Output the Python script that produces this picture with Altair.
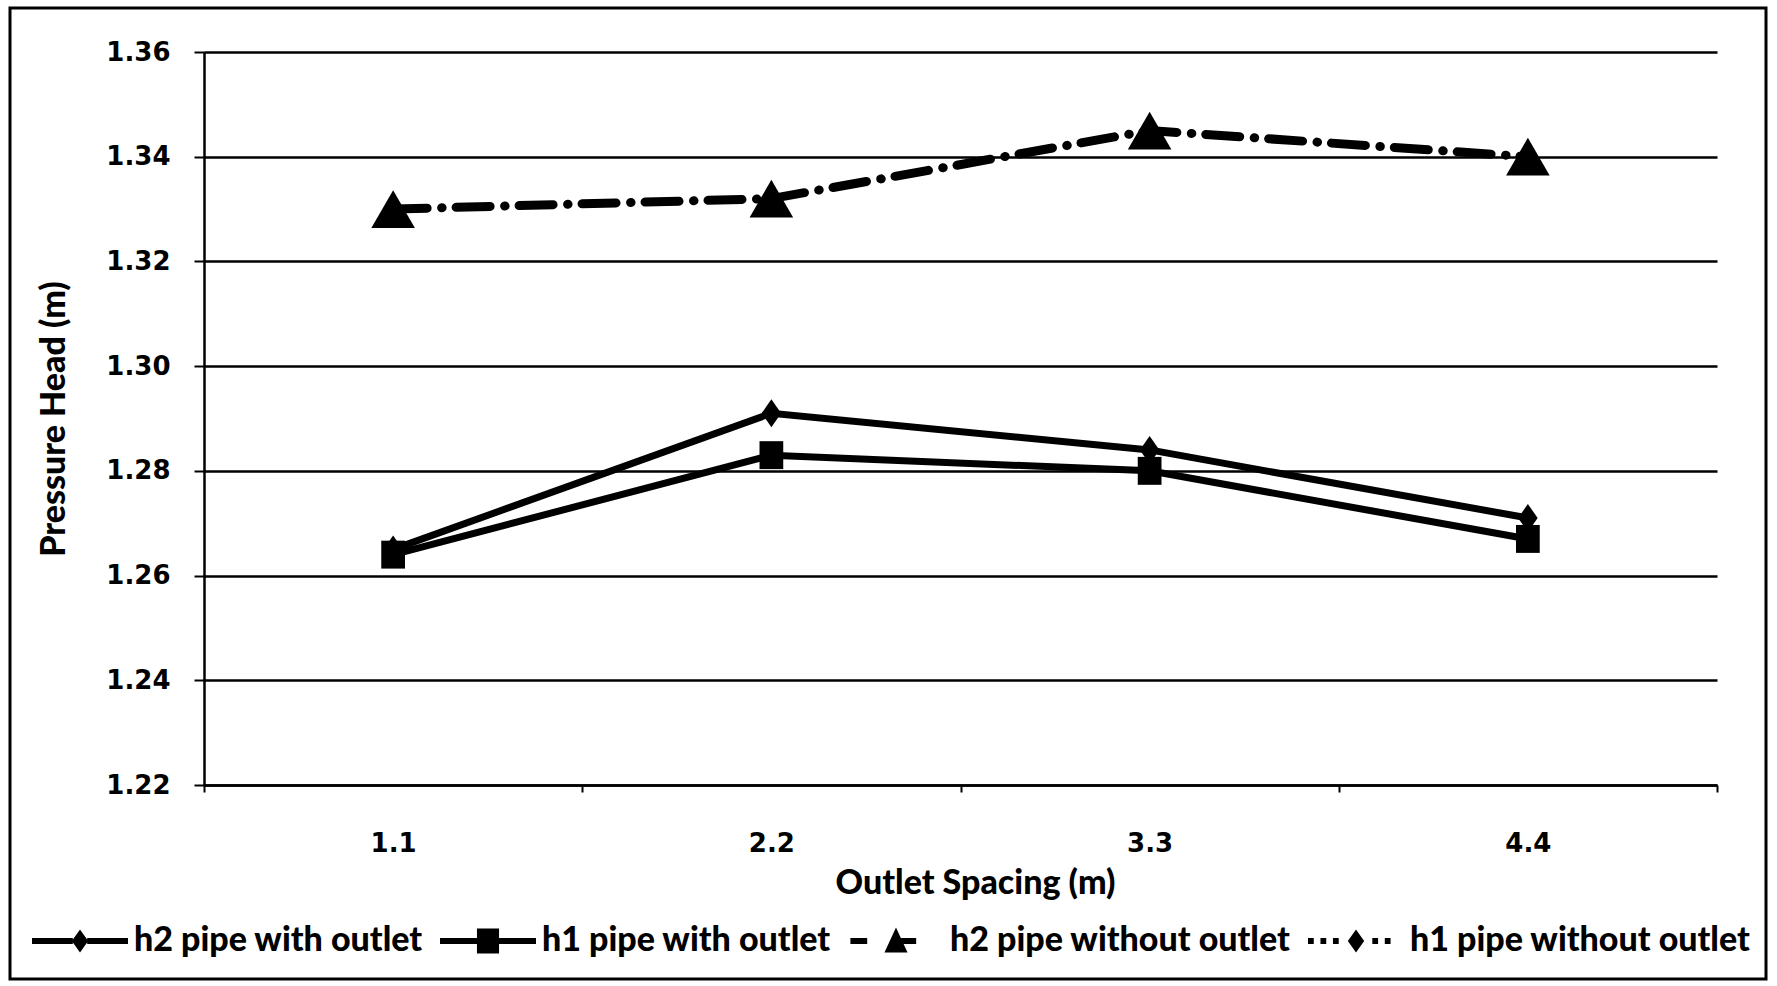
import altair as alt
import pandas as pd

# ---- data ----
spacing = [1.1, 2.2, 3.3, 4.4]
h2_with_outlet = [1.265, 1.291, 1.284, 1.271]
h1_with_outlet = [1.264, 1.283, 1.280, 1.267]
h2_without_outlet = [1.330, 1.332, 1.345, 1.340]
h1_without_outlet = [1.330, 1.332, 1.345, 1.340]

series_names = [
    "h2 pipe with outlet",
    "h1 pipe with outlet",
    "h2 pipe without outlet",
    "h1 pipe without outlet",
]
y_ticks = [1.22, 1.24, 1.26, 1.28, 1.30, 1.32, 1.34, 1.36]
x_ticks_all = [0.55, 1.1, 1.65, 2.2, 2.75, 3.3, 3.85, 4.4, 4.95]
x_labels = ["1.1", "2.2", "3.3", "4.4"]

rows = []
for name, vals in zip(series_names,
                      [h2_with_outlet, h1_with_outlet, h2_without_outlet, h1_without_outlet]):
    for s, v in zip(spacing, vals):
        rows.append({"spacing": s, "head": v, "series": name})
df = pd.DataFrame(rows)

W, H = 1513, 733
LABEL_FONT = "DejaVu Sans"
TEXT_FONT = "Lato"
TEXT_WEIGHT = 900

label_list = "[" + ",".join("'" + l + "'" for l in x_labels) + "]"
is_label = f"indexof({label_list}, format(datum.value, '.1f')) >= 0"

x_enc = alt.X(
    "spacing:Q",
    scale=alt.Scale(domain=[0.55, 4.95], nice=False, zero=False),
    axis=alt.Axis(
        values=x_ticks_all,
        labelExpr=f"{is_label} ? format(datum.value, '.1f') : ''",
        tickOpacity={"condition": {"test": is_label, "value": 0}, "value": 1},
        tickSize=7, tickWidth=2, tickColor="black",
        domainColor="black", domainWidth=2.5,
        grid=False,
        labelFont=LABEL_FONT, labelFontSize=26, labelFontWeight="bold",
        labelColor="black", labelPadding=38, labelFlush=False,
        title="Outlet Spacing (m)", titleFont=TEXT_FONT, titleFontSize=34,
        titleFontWeight=TEXT_WEIGHT, titleColor="black", titlePadding=10,
        titleX=771,
    ),
)
y_enc = alt.Y(
    "head:Q",
    scale=alt.Scale(domain=[1.22, 1.36], nice=False, zero=False),
    axis=alt.Axis(
        values=y_ticks, format=".2f",
        grid=True, gridColor="black", gridWidth=2.5, gridOpacity=1,
        tickSize=10, tickWidth=2, tickColor="black",
        domainColor="black", domainWidth=2.5,
        labelFont=LABEL_FONT, labelFontSize=26, labelFontWeight="bold",
        labelColor="black", labelPadding=24,
        title="Pressure Head (m)", titleFont=TEXT_FONT, titleFontSize=34,
        titleFontWeight=TEXT_WEIGHT, titleColor="black", titlePadding=34,
    ),
)

base = alt.Chart(df)

def series(name):
    return base.transform_filter(alt.datum.series == name)

# h1 pipe without outlet: dotted, diamonds (drawn beneath the triangles)
l4 = series(series_names[3]).mark_line(
    color="black", strokeWidth=9, strokeCap="round",
    strokeDash=[0.5, 62.5], strokeDashOffset=14.5
).encode(x=x_enc, y=y_enc)
p4 = series(series_names[3]).mark_point(
    shape="M0,-1L0.7,0L0,1L-0.7,0Z", filled=True, color="black", size=780, opacity=1
).encode(x="spacing:Q", y="head:Q")

# h2 pipe without outlet: dashed, triangles
l3 = series(series_names[2]).mark_line(
    color="black", strokeWidth=9, strokeCap="round", strokeDash=[34, 29]
).encode(x="spacing:Q", y="head:Q")
p3 = series(series_names[2]).mark_point(
    shape="triangle-up", filled=True, color="black", size=1900, opacity=1
).encode(x="spacing:Q", y="head:Q")

# h1 pipe with outlet: solid, squares
l2 = series(series_names[1]).mark_line(color="black", strokeWidth=7).encode(
    x="spacing:Q", y="head:Q")
p2 = series(series_names[1]).mark_point(
    shape="M-0.85,-1H0.85V1H-0.85Z", filled=True, color="black", size=780, opacity=1
).encode(x="spacing:Q", y="head:Q")

# h2 pipe with outlet: solid, diamonds
l1 = series(series_names[0]).mark_line(color="black", strokeWidth=7).encode(
    x="spacing:Q", y="head:Q")
p1 = series(series_names[0]).mark_point(
    shape="M0,-1L0.7,0L0,1L-0.7,0Z", filled=True, color="black", size=780, opacity=1
).encode(x="spacing:Q", y="head:Q")

# legend-only layer: custom filled symbols (line segments as thin bars + marker)
def bar(a, b, t=0.065):
    return f"M{a},{-t}H{b}V{t}H{a}Z"

diamond = "M0,-0.24L0.17,0L0,0.24L-0.17,0Z"
legend_paths = [
    bar(-1, -0.15) + bar(0.15, 1) + diamond,
    bar(-1, -0.2) + bar(0.2, 1) + "M-0.23,-0.26H0.23V0.26H-0.23Z",
    bar(-0.95, -0.6) + "M-0.24,0.24L0,-0.28L0.24,0.24Z" + bar(0.1, 0.42),
    bar(-1, -0.88) + bar(-0.74, -0.62) + bar(-0.48, -0.36) + diamond
    + bar(0.34, 0.46) + bar(0.6, 0.72),
]
legend_layer = base.transform_filter("false").mark_point(
    filled=True, color="black", opacity=1
).encode(
    x="spacing:Q", y="head:Q",
    shape=alt.Shape(
        "series:N",
        scale=alt.Scale(domain=series_names, range=legend_paths),
        legend=alt.Legend(
            title=None, orient="none", direction="horizontal", columns=4,
            legendX=-172, legendY=841,
            symbolSize=9216, symbolFillColor="black",
            symbolStrokeWidth=0, symbolOpacity=1,
            labelFont=TEXT_FONT, labelFontSize=34, labelFontWeight=TEXT_WEIGHT,
            labelColor="black", labelOffset=6, columnPadding=17,
            labelLimit=600,
        ),
    ),
)

# outer frame around the whole figure
frame = alt.Chart(pd.DataFrame({"a": [0]})).mark_rect(
    fill=None, stroke="black", strokeWidth=3
).encode(
    x=alt.value(-194), x2=alt.value(1562), y=alt.value(-44), y2=alt.value(927)
)

chart = alt.layer(
    l4, p4, l3, p3, l2, p2, l1, p1, legend_layer, frame
).properties(
    width=W, height=H,
    autosize=alt.AutoSizeParams(type="none"),
    padding={"left": 204, "top": 52, "right": 60, "bottom": 201},
    background="white",
).configure_view(stroke=None)

chart.save("out.html", embed_options={"renderer": "svg", "actions": False})
